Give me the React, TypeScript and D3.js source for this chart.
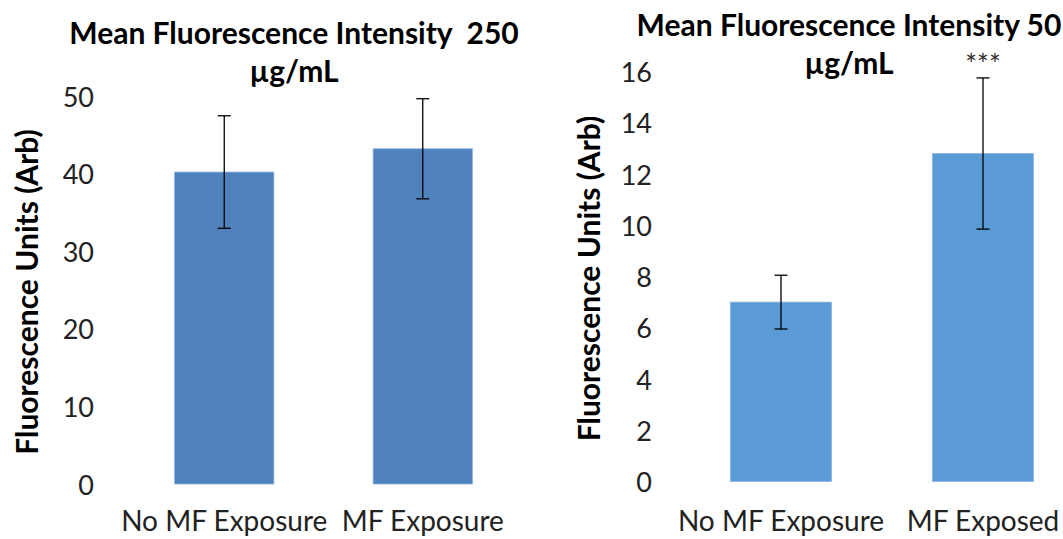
import * as d3 from 'd3'

const W = 1063, H = 539
const FONT = 'Lato, "Open Sans", sans-serif'

// left panel: 250 µg/mL
const leftCategories = ['No MF Exposure', 'MF Exposure']
const leftValues = [40.2, 43.2]
const leftErrors = [7.25, 6.45]
const leftTicks = [0, 10, 20, 30, 40, 50]

// right panel: 50 µg/mL
const rightCategories = ['No MF Exposure', 'MF Exposed']
const rightValues = [7.0, 12.8]
const rightErrors = [1.05, 2.95]
const rightTicks = [0, 2, 4, 6, 8, 10, 12, 14, 16]
const rightMarks = ['', '***']

function Panel({ cats, vals, errs, ticks, marks, yMax, xRange, yRange, tickX, color, titleX, titleY, title, labelX, catY }) {
  const x = d3.scaleBand().domain(cats).range(xRange).paddingInner(0.5).paddingOuter(0.25)
  const y = d3.scaleLinear().domain([0, yMax]).range(yRange)
  const cap = 6.5
  return (
    <g>
      <text x={titleX} y={titleY} textAnchor="middle" fontWeight="bold" fontSize={30} style={{ whiteSpace: 'pre' }}>{title}</text>
      <text x={titleX} y={titleY + 38} textAnchor="middle" fontWeight="bold" fontSize={30}>µg/mL</text>
      <text transform={`translate(${labelX},${(yRange[0] + yRange[1]) / 2 + 2}) rotate(-90)`} textAnchor="middle"
        dominantBaseline="central" fontWeight="bold" fontSize={30}>Fluorescence Units (Arb)</text>
      {ticks.map(t => (
        <text key={t} x={tickX} y={y(t)} textAnchor="end" dominantBaseline="central" fontSize={27} fill="#222">{t}</text>
      ))}
      {cats.map((c, i) => {
        const bx = x(c)!, bw = x.bandwidth(), cx = bx + bw / 2
        const top = y(vals[i] + errs[i]), bot = y(vals[i] - errs[i])
        return (
          <g key={c}>
            <rect x={bx} y={y(vals[i])} width={bw} height={y(0) - y(vals[i])} fill={color} stroke="#8db3e2" strokeWidth={0.8} />
            <line x1={cx} x2={cx} y1={top} y2={bot} stroke="#000" strokeWidth={1.3} />
            <line x1={cx - cap} x2={cx + cap} y1={top} y2={top} stroke="#000" strokeWidth={1.3} />
            <line x1={cx - cap} x2={cx + cap} y1={bot} y2={bot} stroke="#000" strokeWidth={1.3} />
            {marks && marks[i] ? (
              <text x={cx} y={top - 3} textAnchor="middle" fontSize={28} fill="#333">{marks[i]}</text>
            ) : null}
            <text x={cx} y={catY} textAnchor="middle" fontSize={28} fill="#222">{c}</text>
          </g>
        )
      })}
    </g>
  )
}

export default function App() {
  return (
    <svg width={W} height={H} viewBox={`0 0 ${W} ${H}`}
      style={{ position: 'fixed', left: 0, top: 0, background: '#fff', fontFamily: FONT }}>
      <rect width={W} height={H} fill="#fff" />
      <Panel cats={leftCategories} vals={leftValues} errs={leftErrors} ticks={leftTicks} marks={null}
        yMax={50} xRange={[125, 522]} yRange={[484, 96]} tickX={94} color="#4f81bd"
        titleX={294} titleY={44} title="Mean Fluorescence Intensity  250" labelX={26} catY={531} />
      <Panel cats={rightCategories} vals={rightValues} errs={rightErrors} ticks={rightTicks} marks={rightMarks}
        yMax={16} xRange={[680, 1084]} yRange={[481.5, 71.5]} tickX={652} color="#5b9bd5"
        titleX={849} titleY={36} title="Mean Fluorescence Intensity 50" labelX={588} catY={531} />
    </svg>
  )
}
